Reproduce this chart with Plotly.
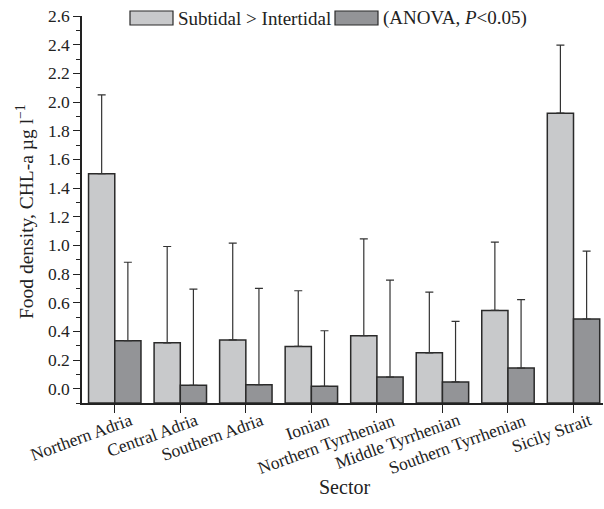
import plotly.graph_objects as go

sectors = ["Northern Adria", "Central Adria", "Southern Adria", "Ionian",
           "Northern Tyrrhenian", "Middle Tyrrhenian", "Southern Tyrrhenian", "Sicily Strait"]
subtidal_mean = [1.50, 0.32, 0.34, 0.295, 0.37, 0.25, 0.546, 1.922]
subtidal_top = [2.05, 0.992, 1.015, 0.683, 1.045, 0.674, 1.023, 2.397]
intertidal_mean = [0.335, 0.023, 0.028, 0.016, 0.081, 0.047, 0.144, 0.486]
intertidal_top = [0.882, 0.695, 0.70, 0.404, 0.757, 0.469, 0.621, 0.960]
legend_labels = ["Subtidal &gt; Intertidal", "(ANOVA, <i>P</i>&lt;0.05)"]

Y_MIN, Y_MAX = -0.1, 2.6

LIGHT = "#c8c9cb"
DARK = "#939497"
EDGE = "#2a2a2a"
TXT = "#222222"
FONT = "Liberation Serif"

sub_err = [t - m for t, m in zip(subtidal_top, subtidal_mean)]
int_err = [t - m for t, m in zip(intertidal_top, intertidal_mean)]


def bar_trace(means, errs, color, name):
    # bars are drawn from the bottom of the value axis up to the mean
    return go.Bar(
        x=sectors, y=[m - Y_MIN for m in means], base=[Y_MIN] * len(means), name=name,
        marker=dict(color=color, line=dict(color=EDGE, width=1.5)),
        error_y=dict(type="data", symmetric=False, array=errs,
                     arrayminus=[0] * len(errs), color="#333333", thickness=1.2, width=4),
        showlegend=False, hoverinfo="skip",
    )


fig = go.Figure()
fig.add_trace(bar_trace(subtidal_mean, sub_err, LIGHT, "Subtidal > Intertidal"))
fig.add_trace(bar_trace(intertidal_mean, int_err, DARK, "(ANOVA, P<0.05)"))

L, R, T, B = 82, 1, 16, 106
W, H = 604, 509
pw, ph = W - L - R, H - T - B


def px(x):
    return (x - L) / pw


def py(y):
    return (H - B - y) / ph


# manual legend
shapes = [
    dict(type="rect", xref="paper", yref="paper", x0=px(130), x1=px(173), y0=py(25), y1=py(11),
         fillcolor=LIGHT, line=dict(color=EDGE, width=1.2)),
    dict(type="rect", xref="paper", yref="paper", x0=px(335), x1=px(378), y0=py(25), y1=py(11),
         fillcolor=DARK, line=dict(color=EDGE, width=1.2)),
]
annotations = [
    dict(x=px(176), y=py(18), xref="paper", yref="paper", xanchor="left", yanchor="middle",
         text=legend_labels[0], showarrow=False, font=dict(family=FONT, size=19, color=TXT)),
    dict(x=px(381), y=py(18), xref="paper", yref="paper", xanchor="left", yanchor="middle",
         text=legend_labels[1], showarrow=False, font=dict(family=FONT, size=19, color=TXT)),
    # axis titles
    dict(x=px(344), y=py(487), xref="paper", yref="paper", xanchor="center", yanchor="middle",
         text="Sector", showarrow=False, font=dict(family=FONT, size=20, color=TXT)),
    dict(x=px(25), y=py(212), xref="paper", yref="paper", xanchor="center", yanchor="middle",
         text="Food density, CHL-a µg l<sup>−1</sup>", textangle=-90, showarrow=False,
         font=dict(family=FONT, size=19.5, color=TXT)),
]
# rotated category labels
for s in sectors:
    annotations.append(dict(
        x=s, xref="x", y=0, yref="paper", xanchor="right", yanchor="top",
        xshift=23, yshift=-4, text=s, textangle=-20, showarrow=False,
        font=dict(family=FONT, size=17.5, color=TXT),
    ))

fig.update_layout(
    width=W, height=H,
    margin=dict(l=L, r=R, t=T, b=B),
    paper_bgcolor="white", plot_bgcolor="white",
    barmode="group", bargap=0.2, bargroupgap=0,
    font=dict(family=FONT, size=17, color=TXT),
    shapes=shapes, annotations=annotations,
    hovermode=False,
    xaxis=dict(
        range=[-0.5, 7.45], showline=True, linecolor=TXT, linewidth=1.5,
        ticks="outside", ticklen=8, tickwidth=1.2, tickcolor=TXT,
        showticklabels=False, fixedrange=True,
        showgrid=False, zeroline=False, automargin=False,
    ),
    yaxis=dict(
        range=[Y_MIN, Y_MAX], showline=True, linecolor=TXT, linewidth=1.5,
        tickmode="linear", tick0=0, dtick=0.2, tickformat=".1f",
        ticks="outside", ticklen=7, tickwidth=1.2, tickcolor=TXT,
        minor=dict(dtick=0.1, tick0=0, ticks="outside", ticklen=4, tickcolor=TXT, tickwidth=1),
        tickfont=dict(family=FONT, size=17.5), fixedrange=True,
        showgrid=False, zeroline=False, automargin=False,
    ),
)

fig.write_html("out.html", config={"displayModeBar": False},
               post_script="document.body.style.margin='0px';")
